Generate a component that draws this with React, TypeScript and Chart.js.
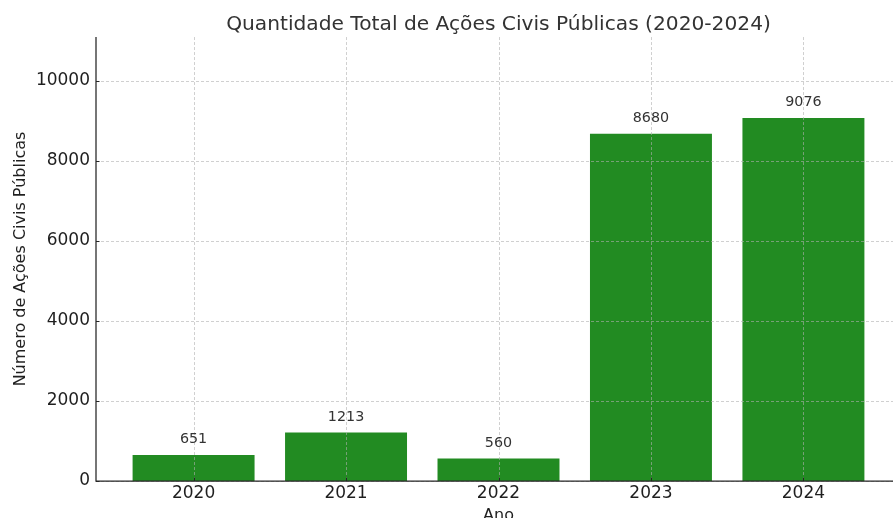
import React, { useEffect, useRef } from "react";
import { Chart, registerables } from "chart.js";

Chart.register(...registerables);

const years = ["2020", "2021", "2022", "2023", "2024"];
const counts = [651, 1213, 560, 8680, 9076];
const yTickValues = [0, 2000, 4000, 6000, 8000, 10000];
const titleText = "Quantidade Total de Ações Civis Públicas (2020-2024)";
const xTitleText = "Ano";
const yTitleText = "Número de Ações Civis Públicas";

const W = 912;
const H = 530;
const FONT = "'DejaVu Sans', sans-serif";

export default function App() {
  const ref = useRef<HTMLCanvasElement>(null);

  useEffect(() => {
    if (!ref.current) return;

    const overlay = {
      id: "overlay",
      afterDatasetsDraw(chart: any) {
        const { ctx, chartArea: a, scales } = chart;
        const x = scales.x;
        const y = scales.y;
        ctx.save();
        // dashed grid over bars
        ctx.strokeStyle = "rgba(176,176,176,0.75)";
        ctx.lineWidth = 0.8;
        ctx.setLineDash([3, 2]);
        years.forEach((_, i) => {
          const px = Math.round(x.getPixelForValue(i)) + 0.5;
          ctx.beginPath();
          ctx.moveTo(px, a.top);
          ctx.lineTo(px, a.bottom);
          ctx.stroke();
        });
        yTickValues.forEach((v) => {
          const py = Math.round(y.getPixelForValue(v)) + 0.5;
          ctx.beginPath();
          ctx.moveTo(a.left, py);
          ctx.lineTo(a.right, py);
          ctx.stroke();
        });
        ctx.setLineDash([]);
        // spines
        ctx.strokeStyle = "#262626";
        ctx.lineWidth = 1.25;
        ctx.beginPath();
        ctx.moveTo(a.left, a.top);
        ctx.lineTo(a.left, a.bottom);
        ctx.lineTo(a.right, a.bottom);
        ctx.stroke();
        // inward tick marks
        ctx.lineWidth = 1;
        years.forEach((_, i) => {
          const px = Math.round(x.getPixelForValue(i)) + 0.5;
          ctx.beginPath();
          ctx.moveTo(px, a.bottom);
          ctx.lineTo(px, a.bottom - 3.5);
          ctx.stroke();
        });
        yTickValues.forEach((v) => {
          const py = Math.round(y.getPixelForValue(v)) + 0.5;
          ctx.beginPath();
          ctx.moveTo(a.left, py);
          ctx.lineTo(a.left + 3.5, py);
          ctx.stroke();
        });
        // value labels
        const meta = chart.getDatasetMeta(0);
        ctx.fillStyle = "#333333";
        ctx.font = `14.3px ${FONT}`;
        ctx.textAlign = "center";
        ctx.textBaseline = "middle";
        meta.data.forEach((bar: any, i: number) => {
          ctx.fillText(String(counts[i]), bar.x, bar.y - 15.5);
        });
        ctx.restore();
      },
    };

    const chart = new Chart(ref.current, {
      type: "bar",
      data: {
        datasets: [
          {
            data: counts.map((c, i) => ({ x: i, y: c })),
            backgroundColor: "#228B22",
            borderWidth: 0,
            barPercentage: 0.8,
            categoryPercentage: 1,
          },
        ],
      },
      options: {
        responsive: false,
        animation: false,
        layout: { padding: { left: 0, right: W - 901, top: 0, bottom: 0 } },
        plugins: {
          legend: { display: false },
          tooltip: { enabled: false },
          title: {
            display: true,
            text: titleText,
            fullSize: false,
            color: "#333333",
            font: { family: FONT, size: 20.2, weight: "normal", lineHeight: 1.2 },
            padding: { top: 12.8, bottom: 0 },
          },
        },
        scales: {
          x: {
            type: "linear",
            offset: false,
            min: -0.64,
            max: 4.64,
            afterBuildTicks: (s: any) => {
              s.ticks = years.map((_, i) => ({ value: i }));
            },
            afterFit: (s: any) => {
              s.height = 49;
            },
            grid: { display: false, drawTicks: false },
            border: { display: false },
            ticks: {
              padding: 2,
              color: "#1f1f1f",
              font: { family: FONT, size: 17 },
              callback: (v: any) => years[v] ?? "",
              maxRotation: 0,
            },
            title: {
              display: true,
              text: xTitleText,
              color: "#1f1f1f",
              font: { family: FONT, size: 16 },
              padding: { top: 0, bottom: 5 },
            },
          },
          y: {
            min: 0,
            max: 11100,
            afterBuildTicks: (s: any) => {
              s.ticks = yTickValues.map((v) => ({ value: v }));
            },
            afterFit: (s: any) => {
              s.width = 96;
            },
            grid: { display: false, drawTicks: false },
            border: { display: false },
            ticks: {
              padding: 6,
              color: "#1f1f1f",
              font: { family: FONT, size: 17 },
              callback: (v: any) => String(v),
            },
            title: {
              display: true,
              text: yTitleText,
              color: "#1f1f1f",
              font: { family: FONT, size: 16 },
              padding: { top: 11, bottom: 0 },
            },
          },
        },
      },
      plugins: [overlay],
    } as any);

    return () => chart.destroy();
  }, []);

  return (
    <div
      style={{
        position: "fixed",
        left: 0,
        top: 0,
        width: 893,
        height: 518,
        overflow: "hidden",
        background: "#ffffff",
      }}
    >
      <canvas ref={ref} width={W} height={H} style={{ display: "block", width: W, height: H }} />
    </div>
  );
}
